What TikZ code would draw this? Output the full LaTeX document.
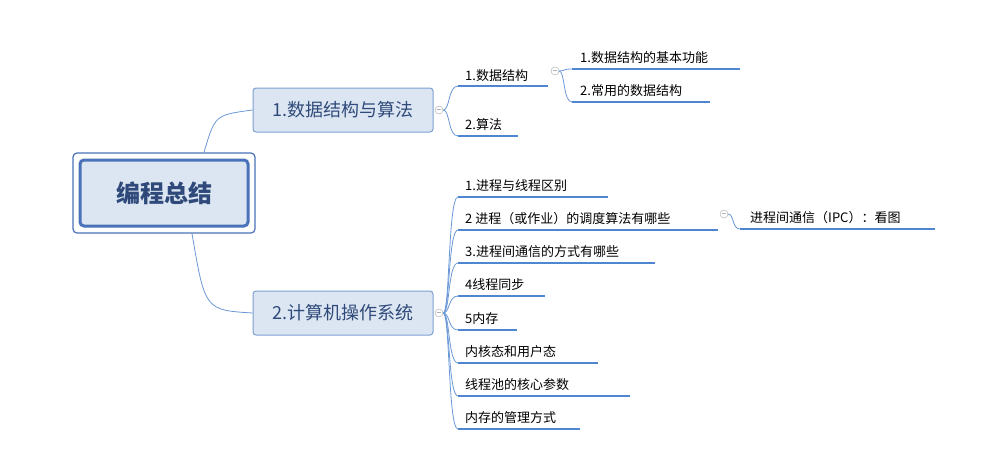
\documentclass[tikz,border=0pt]{standalone}
\usepackage{fontspec}
\setmainfont{Noto Sans CJK SC}
\definecolor{ln}{HTML}{6A97D6}
\definecolor{ul}{HTML}{4F86D2}
\definecolor{tb}{HTML}{DCE6F2}
\definecolor{tbd}{HTML}{7EA0D0}
\definecolor{rt}{HTML}{4A72B8}
\definecolor{tx}{HTML}{2F4A7A}
\begin{document}
\begin{tikzpicture}[x=1pt,y=-1pt,
 conn/.style={ln,line width=0.8pt},
 uline/.style={ul,line width=2pt},
 topic/.style={draw=tbd,fill=tb,rounded corners=3pt,line width=1pt,minimum width=180pt,minimum height=44pt,font=\fontsize{18}{20}\selectfont,text=tx},
 lbl/.style={anchor=south west,inner sep=0pt,font=\fontsize{13}{15}\selectfont},
 tog/.style={circle,draw=gray!70,fill=white,minimum size=8pt,inner sep=0pt,font=\fontsize{6}{6}\selectfont}]
\useasboundingbox (0,0) rectangle (987,455);
% root
\node[draw=rt,line width=1.2pt,rounded corners=4pt,minimum width=182pt,minimum height=80pt] (rootout) at (164,193) {};
\node[draw=rt,fill=tb,line width=3pt,rounded corners=4pt,minimum width=168pt,minimum height=66pt,font=\bfseries\fontsize{24}{26}\selectfont,text=tx] (root) at (164,193) {编程总结};
\node[topic] (t1) at (343,110) {1.数据结构与算法};
\node[topic] (t2) at (343,313) {2.计算机操作系统};
\draw[conn] (rootout.north)++(40,0) coordinate (r1) .. controls (215,115) .. (t1.west);
\draw[conn] (rootout.south)++(28,0) coordinate (r2) .. controls (205,310) .. (t2.west);
\node[tog] (c1) at (439,110) {$-$};
\node[tog] (c2) at (439,313) {$-$};
% topic 1 children
\coordinate (a1) at (458,86); \coordinate (a1e) at (548,86);
\coordinate (a2) at (458,136); \coordinate (a2e) at (518,136);
\draw[uline] (a1)--(a1e); \node[lbl] at (465,82) {1.数据结构};
\draw[uline] (a2)--(a2e); \node[lbl] at (465,131) {2.算法};
\draw[conn] (c1.east) .. controls (450,110) and (448,86) .. (a1);
\draw[conn] (c1.east) .. controls (450,110) and (448,136) .. (a2);
\node[tog] (c3) at (555,71) {$-$};
\coordinate (b1) at (572,69); \coordinate (b1e) at (740,69);
\coordinate (b2) at (572,102); \coordinate (b2e) at (710,102);
\draw[uline] (b1)--(b1e); \node[lbl] at (580,64) {1.数据结构的基本功能};
\draw[uline] (b2)--(b2e); \node[lbl] at (580,97) {2.常用的数据结构};
\draw[conn] (c3.east) .. controls (565,71) and (563,69) .. (b1);
\draw[conn] (c3.east) .. controls (565,71) and (563,102) .. (b2);
% topic 2 children
\foreach \y/\e/\t [count=\i] in {197/608/1.进程与线程区别,230/718/2 进程（或作业）的调度算法有哪些,263/655/3.进程间通信的方式有哪些,296/545/4线程同步,330/517/5内存,363/598/内核态和用户态,396/630/线程池的核心参数,429/580/内存的管理方式}{
 \coordinate (o\i) at (458,\y);
 \draw[uline] (o\i)--(\e,\y);
 \node[lbl] at (465,\y-5) {\t};
 \draw[conn] (c2.east) .. controls (450,313) and (448,\y) .. (o\i);
}
\node[tog] (c4) at (724,214) {$-$};
\coordinate (p1) at (740,229);
\draw[uline] (p1)--(935,229); \node[lbl] at (750,224) {进程间通信（IPC）：看图};
\draw[conn] (c4.east) .. controls (734,214) and (732,229) .. (p1);
\end{tikzpicture}
\end{document}
